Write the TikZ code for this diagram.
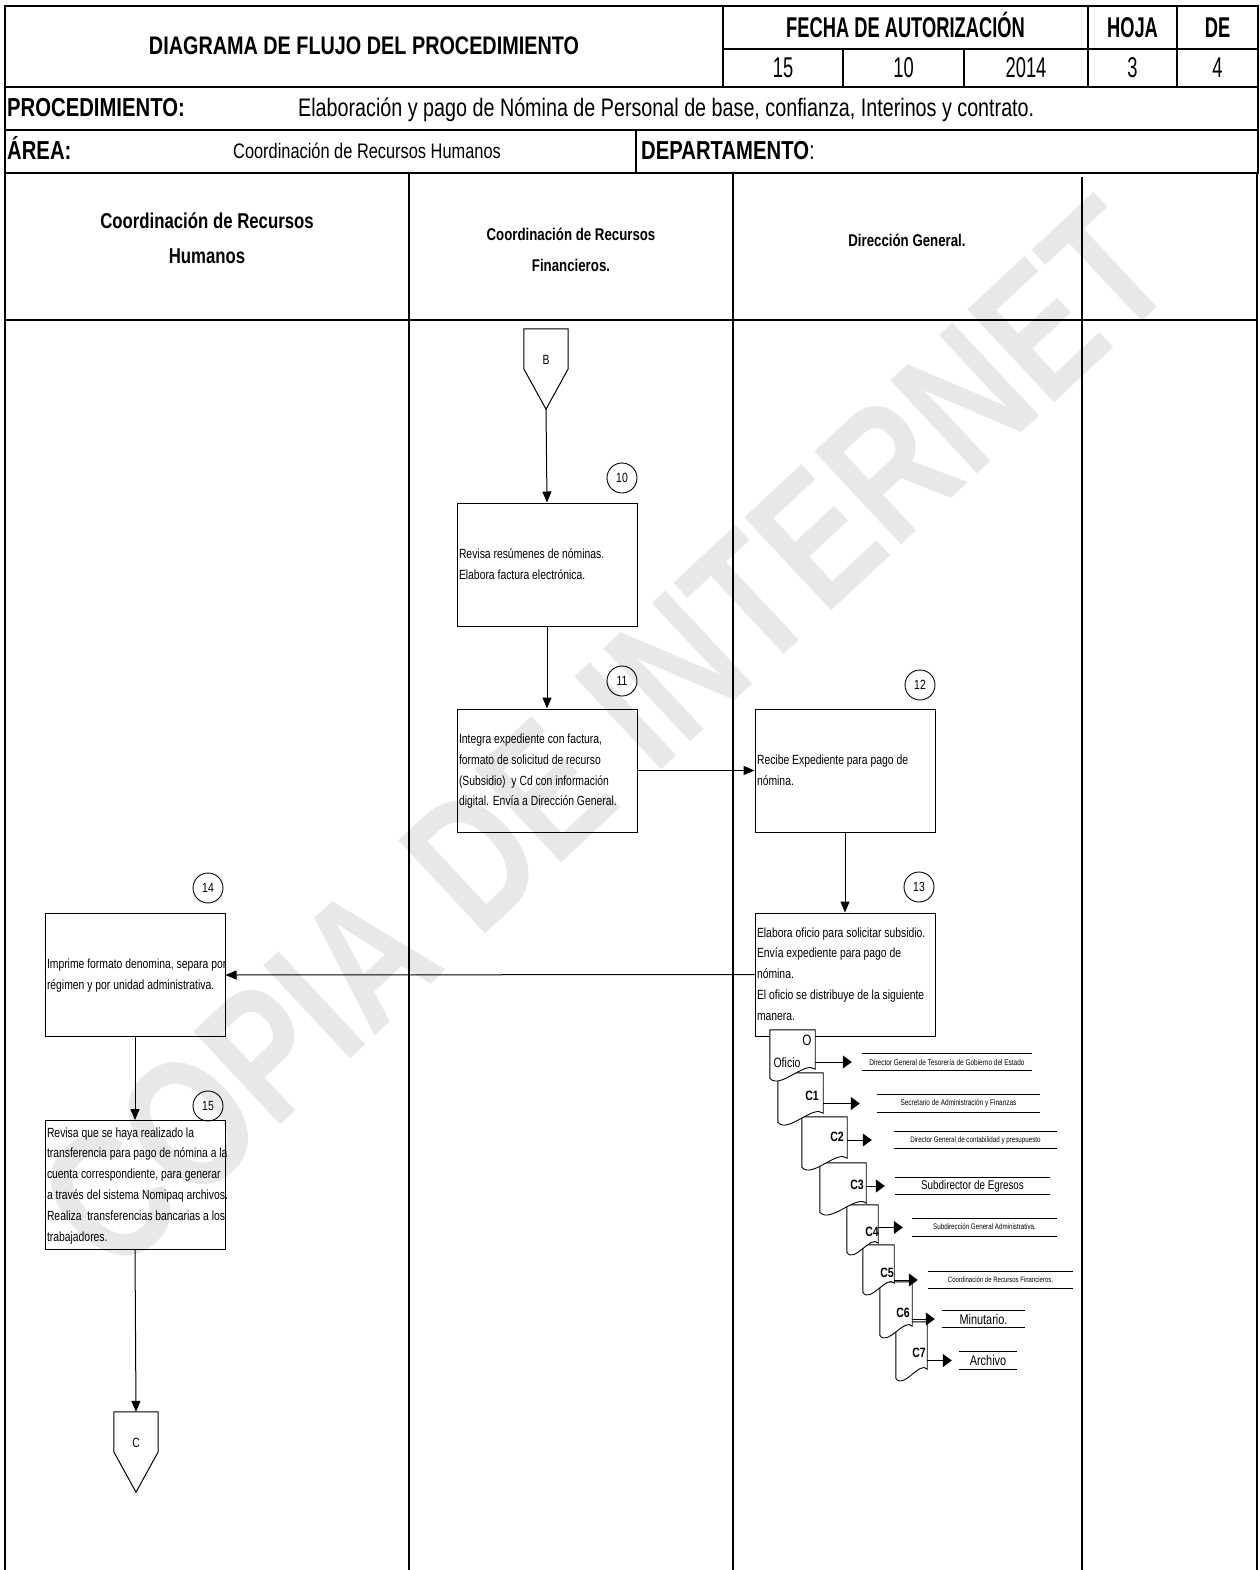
\documentclass[tikz,border=0pt]{standalone}
\usepackage{fontspec}
\setmainfont{Liberation Sans}[FakeStretch=0.78]
\newfontfamily\estrecha{Liberation Sans}[FakeStretch=0.64]
\usetikzlibrary{arrows.meta,calc}

% box text: lines kept as typed, left aligned in the box
\newcommand{\lineas}[1]{\makebox[176pt][l]{\begin{tabular}{@{}l@{}}#1\end{tabular}}}

\begin{document}
\begin{tikzpicture}[
  x=1pt, y=-1pt,
  font=\fontsize{13.3}{20.8}\selectfont,
  frame/.style={line width=1.8pt},
  lane/.style={line width=1.3pt},
  hdr/.style={anchor=base, inner sep=0pt, font=\estrecha\bfseries\fontsize{28.6}{30}\selectfont},
  hdrnum/.style={anchor=base, inner sep=0pt, font=\estrecha\fontsize{28.6}{30}\selectfont},
  rowlab/.style={anchor=base west, inner sep=0pt, font=\bfseries\fontsize{26}{28}\selectfont},
  rowtxt/.style={anchor=base west, inner sep=0pt, font=\fontsize{25.3}{28}\selectfont},
  lanehead/.style={align=center, inner sep=0pt, font=\bfseries\fontsize{17}{31}\selectfont},
  actbox/.style={
    draw, line width=1pt, minimum width=180, minimum height=123,
    inner xsep=2, inner ysep=2,
  },
  num/.style={circle, draw, line width=0.9pt, minimum size=30, inner sep=0pt},
  offpage/.style={minimum width=44, minimum height=80, inner sep=0pt, text depth=18pt},
  flow/.style={-{Triangle[length=11pt, width=9pt]}, line width=1pt},
  docflow/.style={-{Triangle[length=9pt, width=13pt]}, line width=1pt},
  docline/.style={draw, fill=white, line width=0.9pt},
  dest/.style={inner sep=0pt, minimum height=17},
]
\useasboundingbox (0,0) rectangle (1259,1570);

% ---- Watermark --------------------------------------------------------
\node[rotate=43, text=black!9, inner sep=0pt,
      font=\bfseries\fontsize{185}{185}\selectfont] (marca) at (605,735) {COPIA DE INTERNET};

% ---- Header table -----------------------------------------------------
\draw[frame] (5,6) rectangle (1258,173);
\draw[frame] (723,6) -- (723,87) (723,49) -- (1258,49)
  (5,87) -- (1258,87) (5,130) -- (1258,130)
  (843,49) -- (843,87) (964,49) -- (964,87)
  (1088,6) -- (1088,87) (1177,6) -- (1177,87)
  (636,130) -- (636,173);

\node[hdr, font=\bfseries\fontsize{25.4}{28}\selectfont] (titulo) at (364,55)
  {DIAGRAMA DE FLUJO DEL PROCEDIMIENTO};
\node[hdr] (fecha) at (905.5,38) {FECHA DE AUTORIZACIÓN};
\node[hdr] (hoja)  at (1132.5,38) {HOJA};
\node[hdr] (de)    at (1217.5,38) {DE};
\node[hdrnum] (dia)   at (783,78)    {15};
\node[hdrnum] (mes)   at (903.5,78)  {10};
\node[hdrnum] (anio)  at (1026,78)   {2014};
\node[hdrnum] (nhoja) at (1132.5,78) {3};
\node[hdrnum] (nde)   at (1217.5,78) {4};

\node[rowlab] (proc)  at (7,117)   {PROCEDIMIENTO:};
\node[rowtxt] (proct) at (298,117)
  {Elaboración y pago de Nómina de Personal de base, confianza, Interinos y contrato.};
\node[rowlab] (area)  at (7,160)   {ÁREA:};
\node[rowtxt, font=\fontsize{21}{24}\selectfont] (areat) at (233,159)
  {Coordinación de Recursos Humanos};
\node[rowlab] (depto) at (641,160) {DEPARTAMENTO\mdseries:};

% ---- Swimlanes --------------------------------------------------------
\draw[lane] (5,173) -- (5,1570) (409,173) -- (409,1570) (733,173) -- (733,1570)
  (1082,177) -- (1082,1570) (1257,173) -- (1257,1570) (5,320) -- (1257,320);

\node[lanehead, font=\bfseries\fontsize{21.5}{35}\selectfont] (rh) at (207,238)
  {Coordinación de Recursos\\Humanos};
\node[lanehead] (rf) at (571,250) {Coordinación de Recursos\\Financieros.};
\node[lanehead] (dg) at (907,240) {Dirección General.};

% ---- Steps ------------------------------------------------------------
\node[offpage] (conB) at (546,369) {B};
\draw[line width=1pt] (conB.north west) -- (conB.north east) -- ($(conB.north east)+(0,40)$)
  -- (conB.south) -- ($(conB.north west)+(0,40)$) -- cycle;

\node[actbox] (p10) at (547,564.5)
  {\lineas{Revisa resúmenes de nóminas.\\Elabora factura electrónica.}};
\node[num] (n10) at (622,478) {10};

\node[actbox] (p11) at (547,770.5)
  {\lineas{Integra expediente con factura,\\formato de solicitud de recurso\\(Subsidio)\ \ y Cd con información\\digital. Envía a Dirección General.}};
\node[num] (n11) at (622,681) {11};

\node[actbox] (p12) at (845,770.5)
  {\lineas{Recibe Expediente para pago de\\nómina.}};
\node[num] (n12) at (920,685) {12};

\node[actbox] (p13) at (845,974.5)
  {\lineas{Elabora oficio para solicitar subsidio.\\Envía expediente para pago de\\nómina.\\El oficio se distribuye de la siguiente\\manera.}};
\node[num] (n13) at (919,887) {13};

\node[actbox] (p14) at (135,975)
  {\lineas{Imprime formato denomina, separa por\\régimen y por unidad administrativa.}};
\node[num] (n14) at (208,888) {14};

\node[actbox] (p15) at (135,1185)
  {\lineas{Revisa que se haya realizado la\\transferencia para pago de nómina a la\\cuenta correspondiente, para generar\\a través del sistema Nomipaq archivos.\\Realiza\ \ transferencias bancarias a los\\trabajadores.}};
\node[num] (n15) at (208,1106) {15};

\node[offpage] (conC) at (136,1452) {C};
\draw[line width=1pt] (conC.north west) -- (conC.north east) -- ($(conC.north east)+(0,40)$)
  -- (conC.south) -- ($(conC.north west)+(0,40)$) -- cycle;

% ---- Flows ------------------------------------------------------------
\draw[flow] (conB.south) -- (p10.north);
\draw[flow] (p10.south) -- (p11.north);
\draw[flow] (p11.east) -- (p12.west);
\draw[flow] (p12.south) -- (p13.north);
\draw[flow] (p13.west) -- (p14.east);
\draw[flow] (p14.south) -- (p15.north);
\draw[flow] (p15.south) -- (conC.north);

% ---- Copies of the oficio and where each goes -------------------------
\foreach \n/\cx/\cy/\w/\h/\tx/\ty/\tt in {
    7/911.5/1350/31/56/919/1353/C7, 6/896/1308.5/32/53/903/1313/C6,
    5/878.5/1268.5/31/47/887/1273/C5, 4/862.5/1228.5/31/47/872/1232/C4,
    3/843/1187.5/46/49/857/1185/C3, 2/824.5/1142/45/50/837/1137/C2,
    1/800.5/1097.5/45/49/812/1096/C1} {
  \node[minimum width=\w, minimum height=\h, inner sep=0pt] (d\n) at (\cx,\cy) {};
  \draw[docline] (d\n.north west) -- (d\n.north east) -- ($(d\n.south east)+(0,-9)$)
    .. controls ($(d\n.south east)!0.22!(d\n.south west)+(0,-18)$)
    and ($(d\n.south west)!0.22!(d\n.south east)+(0,12)$) .. (d\n.south west) -- cycle;
  \node[inner sep=0pt, font=\bfseries\fontsize{13.5}{14}\selectfont] (t\n) at (\tx,\ty) {\tt};
}
\node[minimum width=45, minimum height=48, inner sep=0pt] (d0) at (792.5,1054) {};
\draw[docline] (d0.north west) -- (d0.north east) -- ($(d0.south east)+(0,-9)$)
  .. controls ($(d0.south east)!0.22!(d0.south west)+(0,-18)$)
  and ($(d0.south west)!0.22!(d0.south east)+(0,12)$) .. (d0.south west) -- cycle;
\node[inner sep=0pt, font=\fontsize{15}{16}\selectfont] (t0) at (807,1040) {O};
\node[inner sep=0pt, font=\fontsize{13.5}{14}\selectfont] (of) at (787,1063) {Oficio};

\foreach \n/\cx/\cy/\w/\s/\g/\txt in {
    0/947/1062/170/8.3/10/{Director General de Tesorería de Gobierno del Estado},
    1/958.5/1103.5/163/8.3/17/{Secretario de Administración y Finanzas},
    2/975.5/1140/163/8/22/{Director General de contabilidad y presupuesto},
    3/972.5/1186/155/12.6/10/{Subdirector de Egresos},
    4/984.5/1227.5/145/8/9/{Subdirección General Administrativa,},
    5/1000.5/1280/145/7.7/10/{Coordinación de Recursos Financieros,},
    6/983.5/1319/83/14/7/{Minutario.},
    7/988/1360.5/58/14/7/{Archivo}} {
  \node[dest, minimum width=\w, font=\fontsize{\s}{\s}\selectfont] (l\n) at (\cx,\cy) {\txt};
  \draw[line width=0.8pt] (l\n.north west) -- (l\n.north east) (l\n.south west) -- (l\n.south east);
  \draw[docflow, shorten >=\g pt] (l\n.west -| d\n.east) -- (l\n.west);
}

\end{tikzpicture}
\end{document}
